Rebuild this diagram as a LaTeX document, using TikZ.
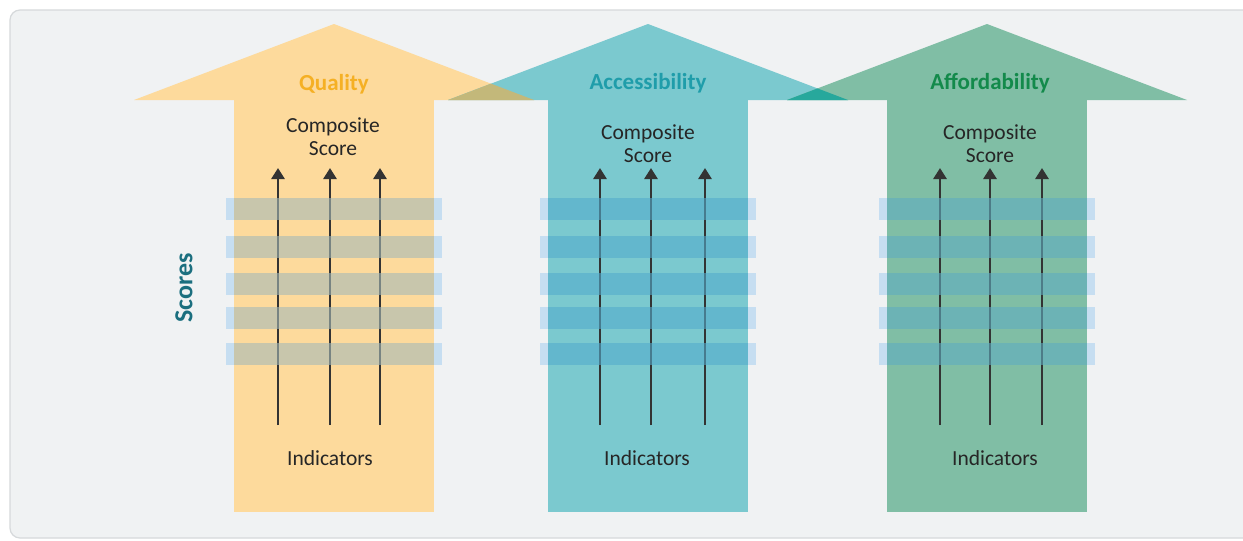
\documentclass[tikz,border=0pt]{standalone}
\usepackage{fontspec}
\setmainfont{Carlito}
\usetikzlibrary{arrows.meta}

\definecolor{panelbg}{HTML}{F0F2F3}
\definecolor{panelline}{HTML}{D6D9DB}
\definecolor{qualfill}{HTML}{FDDA9C}
\definecolor{accfill}{HTML}{7BC9CF}
\definecolor{afffill}{HTML}{80BEA5}
\definecolor{olapqa}{HTML}{C3B87A}
\definecolor{olapaa}{HTML}{27A89C}
\definecolor{qualtxt}{HTML}{F5B024}
\definecolor{acctxt}{HTML}{1F9DAA}
\definecolor{afftxt}{HTML}{138A4B}
\definecolor{scorestxt}{HTML}{1B6F7F}
\definecolor{barblue}{HTML}{AAD1F0}
\definecolor{qualbar}{HTML}{A6BAB7}
\definecolor{accbar}{HTML}{53ABCD}
\definecolor{affbar}{HTML}{5FADC0}

% 大箭头轮廓 (参数: 中心 x)
\newcommand{\headpath}[1]{(#1-200,100) -- (#1,24) -- (#1+200,100) -- cycle}
\newcommand{\shaftpath}[1]{(#1-100,100) rectangle (#1+100,512)}

\begin{document}
\begin{tikzpicture}[x=1pt, y=-1pt]
        % ================= 样式定义 =================
        \tikzset{
            % 背景面板
            panel/.style={fill=panelbg, draw=panelline, line width=1.2pt, rounded corners=10pt},
            % 标题文字
            title/.style={font=\fontsize{23}{26}\selectfont\bfseries, inner sep=0pt},
            % 普通文字
            txt/.style={font=\fontsize{21.5}{23}\selectfont, align=center, inner sep=0pt, text=black!85},
            % 指标箭头
            ind_arrow/.style={line width=2.7pt, draw=black!80, -{Triangle[width=13pt,length=11pt]}},
            % 分数横条
            barend/.style={fill=barblue, fill opacity=0.6},
            barmid/.style={fill=#1, fill opacity=0.6}
        }

        \useasboundingbox (0,0) rectangle (1243,541);
        \fill[white] (0,0) rectangle (1243,541);
        \draw[panel] (10,10) rectangle (1260,538);

        % ================= 三个大箭头 =================
        \fill[qualfill] \headpath{334};
        \fill[qualfill] \shaftpath{334};
        \fill[accfill] \headpath{648};
        \fill[accfill] \shaftpath{648};
        \fill[afffill] \headpath{987};
        \fill[afffill] \shaftpath{987};

        % 箭头头部重叠区域
        \begin{scope}
            \clip \headpath{334};
            \fill[olapqa] \headpath{648};
        \end{scope}
        \begin{scope}
            \clip \headpath{648};
            \fill[olapaa] \headpath{987};
        \end{scope}

        % 标题
        \node[title, text=qualtxt] (q_title) at (334,84) {Quality};
        \node[title, text=acctxt] (a_title) at (648,83) {Accessibility};
        \node[title, text=afftxt] (f_title) at (990,83) {Affordability};

        % 顶部与底部文字
        \node[txt] (q_comp) at (333,137) {Composite\\Score};
        \node[txt] (a_comp) at (648,144) {Composite\\Score};
        \node[txt] (f_comp) at (990,144) {Composite\\Score};
        \node[txt] (q_ind) at (330,458) {Indicators};
        \node[txt] (a_ind) at (647,458) {Indicators};
        \node[txt] (f_ind) at (995,458) {Indicators};

        % ================= 指标箭头 =================
        \foreach \x [count=\i] in {278,330,380} {
            \coordinate (q_b\i) at (\x,425);
            \coordinate (q_t\i) at (\x,168);
            \draw[ind_arrow] (q_b\i) -- (q_t\i);
        }
        \foreach \x [count=\i] in {600,651,705} {
            \coordinate (a_b\i) at (\x,425);
            \coordinate (a_t\i) at (\x,168);
            \draw[ind_arrow] (a_b\i) -- (a_t\i);
        }
        \foreach \x [count=\i] in {940,990,1042} {
            \coordinate (f_b\i) at (\x,425);
            \coordinate (f_t\i) at (\x,168);
            \draw[ind_arrow] (f_b\i) -- (f_t\i);
        }

        % ================= 分数横条 =================
        \foreach \cx/\col in {334/qualbar, 648/accbar, 987/affbar} {
            \foreach \y in {198,236,273,307,343} {
                \fill[barend] (\cx-108,\y) rectangle (\cx-100,\y+22);
                \fill[barend] (\cx+100,\y) rectangle (\cx+108,\y+22);
                \fill[barmid=\col] (\cx-100,\y) rectangle (\cx+100,\y+22);
            }
        }

        \node[rotate=90, font=\fontsize{26}{28}\selectfont\bfseries, text=scorestxt] (scores) at (184,288) {Scores};

\end{tikzpicture}
\end{document}
